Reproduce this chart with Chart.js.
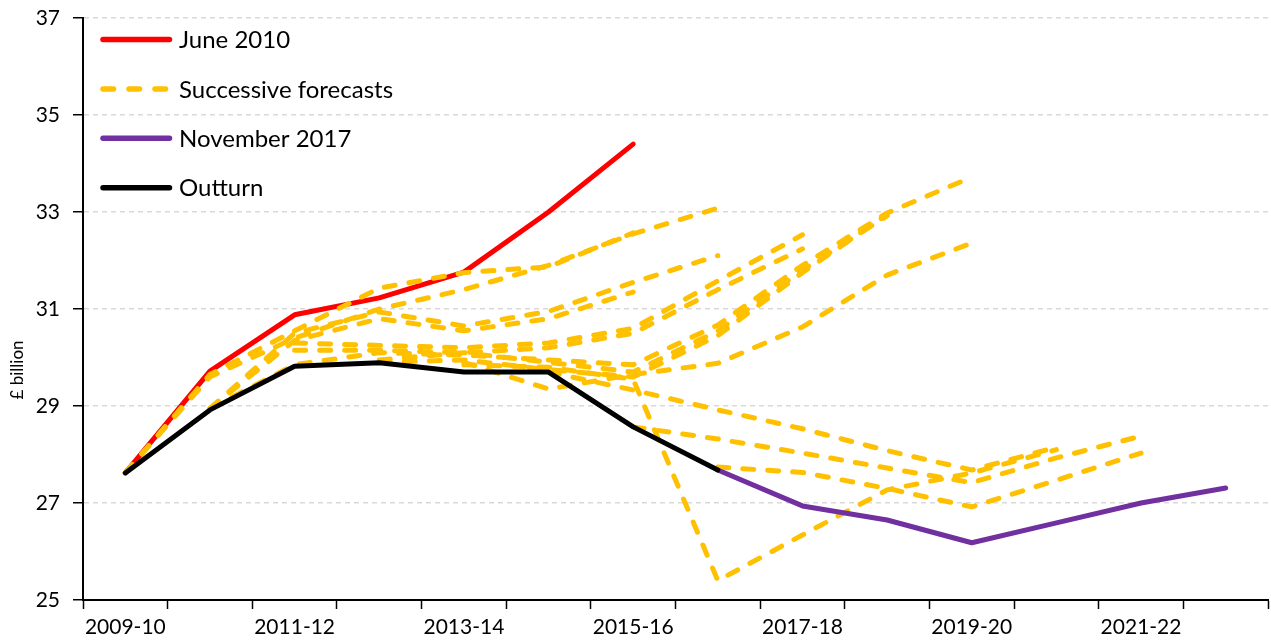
<!DOCTYPE html>
<html><head><meta charset="utf-8">
<script src="https://cdn.jsdelivr.net/npm/chart.js@4.4.1/dist/chart.umd.min.js"></script>
<style>html,body{margin:0;padding:0;background:#fff;}#wrap{width:1271px;height:641px;position:relative;}</style>
</head><body><div id="wrap"><canvas id="c" width="1271" height="641"></canvas></div>
<script>
const categories = ['2009-10','2010-11','2011-12','2012-13','2013-14','2014-15','2015-16','2016-17','2017-18','2018-19','2019-20','2020-21','2021-22','2022-23'];
const yTickValues = [25, 27, 29, 31, 33, 35, 37];
const legendLabels = ['June 2010', 'Successive forecasts', 'November 2017', 'Outturn'];
const yTitle = '£ billion';

const june2010 = [27.62, 29.72, 30.88, 31.23, 31.76, 33.00, 34.40];
const outturn  = [27.62, 28.92, 29.82, 29.89, 29.70, 29.70, 28.57, 27.68];
const nov2017  = [null, null, null, null, null, null, null, 27.68, 26.94, 26.65, 26.18, 26.59, 27.00, 27.31];

const forecast01 = [27.62, 29.65, 30.55, 31.43, 31.75, 31.87, 32.57];
const forecast02 = [27.62, 29.60, 30.40, 31.00, 31.40, 31.90, 32.55, 33.08];
const forecast03 = [null, 28.95, 30.50, 30.94, 30.65, 30.95, 31.55, 32.10];
const forecast04 = [null, 28.95, 30.35, 30.80, 30.55, 30.80, 31.35];
const forecast05 = [null, null, 30.30, 30.25, 30.20, 30.30, 30.60, 31.58, 32.53];
const forecast06 = [null, null, 30.15, 30.15, 30.10, 30.20, 30.50, 31.40, 32.24];
const forecast07 = [null, 28.95, 29.85, 30.10, 30.05, 29.95, 29.85, 30.67, 31.90, 32.98, 33.72];
const forecast08 = [null, null, null, 29.95, 30.10, 29.90, 29.70, 30.55, 31.80, 32.92];
const forecast09 = [null, null, null, 29.90, 29.95, 29.75, 29.60, 30.45, 31.75, 32.95];
const forecast10 = [null, null, null, null, 29.90, 29.35, 29.65, 29.88, 30.63, 31.70, 32.36];
const forecast11 = [null, null, null, null, 29.85, 29.80, 29.55, 25.40, 26.34, 27.27, 27.62, 28.10];
const forecast12 = [null, null, null, null, null, 29.70, 29.33, 28.92, 28.53, 28.08, 27.68, 28.15];
const forecast13 = [null, null, null, null, null, null, 28.57, 28.32, 28.03, 27.72, 27.42, 27.93, 28.38];
const forecast14 = [null, null, null, null, null, null, null, 27.74, 27.63, 27.30, 26.92, 27.47, 28.03];

const forecasts = [forecast01, forecast02, forecast03, forecast04, forecast05, forecast06, forecast07,
                   forecast08, forecast09, forecast10, forecast11, forecast12, forecast13, forecast14];

const RED = '#FF0000', YELLOW = '#FFC000', PURPLE = '#7030A0', BLACK = '#000000';
const FONT = 'Lato';

const datasets = [];
datasets.push({label: legendLabels[0], data: june2010, borderColor: RED, borderWidth: 5, order: 3});
forecasts.forEach((f, i) => datasets.push({label: legendLabels[1] + ' ' + (i + 1), data: f, borderColor: YELLOW,
  borderWidth: 5, borderDash: [11, 14], order: 2}));
datasets.push({label: legendLabels[2], data: nov2017, borderColor: PURPLE, borderWidth: 5, order: 1});
datasets.push({label: legendLabels[3], data: outturn, borderColor: BLACK, borderWidth: 5, order: 0});
datasets.forEach(d => { d.pointRadius = 0; d.pointHoverRadius = 0; d.tension = 0; d.fill = false;
  d.borderCapStyle = 'round'; d.borderJoinStyle = 'round'; d.spanGaps = false; });

const legendPlugin = {
  id: 'lineLegend',
  afterDraw(chart) {
    const ctx = chart.ctx;
    const items = [
      {label: legendLabels[0], color: RED, dash: []},
      {label: legendLabels[1], color: YELLOW, dash: [10.5, 15.5]},
      {label: legendLabels[2], color: PURPLE, dash: []},
      {label: legendLabels[3], color: BLACK, dash: []}
    ];
    ctx.save();
    items.forEach((it, i) => {
      const y = 39.5 + i * 49.4;
      ctx.beginPath();
      ctx.setLineDash(it.dash);
      ctx.lineCap = 'round';
      ctx.lineWidth = 5.5;
      ctx.strokeStyle = it.color;
      ctx.moveTo(103, y);
      ctx.lineTo(169.5, y);
      ctx.stroke();
      ctx.setLineDash([]);
      ctx.fillStyle = '#000';
      ctx.font = '24px ' + FONT;
      ctx.textBaseline = 'middle';
      ctx.textAlign = 'left';
      ctx.fillText(it.label, 179, y + 1);
    });
    ctx.translate(18, 370);
    ctx.rotate(-Math.PI / 2);
    ctx.textAlign = 'center';
    ctx.textBaseline = 'middle';
    ctx.font = '17px ' + FONT;
    ctx.fillStyle = '#000';
    ctx.fillText(yTitle, 0, 0);
    ctx.restore();
  }
};

new Chart(document.getElementById('c'), {
  type: 'line',
  data: {labels: categories, datasets: datasets},
  options: {
    responsive: false,
    animation: false,
    devicePixelRatio: 1,
    layout: {padding: {top: 18, right: 3, bottom: 0, left: 0}},
    plugins: {legend: {display: false}, tooltip: {enabled: false}},
    scales: {
      x: {
        type: 'category',
        offset: true,
        grid: {display: true, drawOnChartArea: false, drawTicks: true, tickLength: 9, tickColor: '#000', tickWidth: 1.5, offset: true},
        border: {display: true, color: '#000', width: 2},
        ticks: {autoSkip: false, maxRotation: 0, minRotation: 0, padding: 6, color: '#000',
          font: {family: FONT, size: 21},
          callback: function (v, i) { return i % 2 === 0 ? this.getLabelForValue(v) : ''; }},
        afterFit: s => { s.height = 41; s.paddingLeft = 0; s.paddingRight = 0; }
      },
      y: {
        min: 25, max: 37,
        afterBuildTicks: s => { s.ticks = yTickValues.map(v => ({value: v})); },
        ticks: {padding: 13, color: '#000', font: {family: FONT, size: 21}},
        grid: {color: '#d9d9d9', lineWidth: 1.5, tickLength: 10, tickColor: '#000', tickWidth: 1.5, tickBorderDash: [], drawTicks: true},
        border: {display: true, color: '#000', width: 2, dash: [5, 4]},
        afterFit: s => { s.width = 83; s.paddingTop = 0; s.paddingBottom = 0; }
      }
    }
  },
  plugins: [legendPlugin]
});
</script>
</body></html>
